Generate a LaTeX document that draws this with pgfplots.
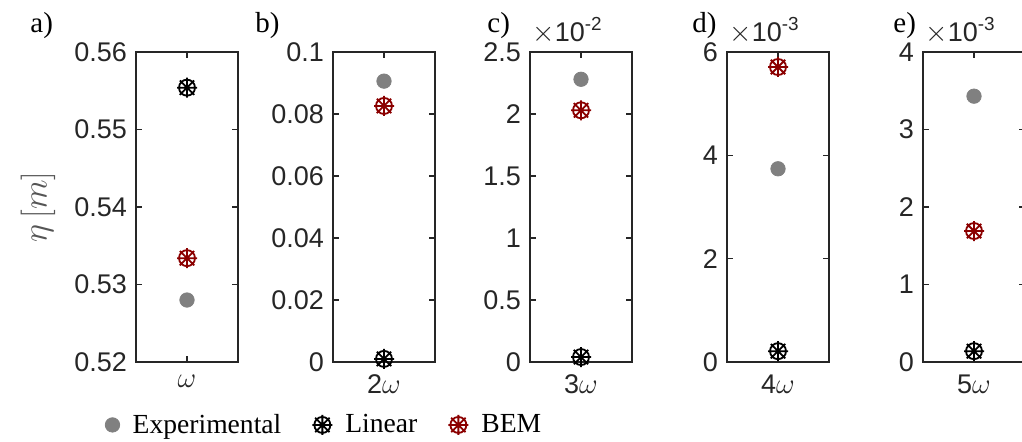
\documentclass[border=0pt]{standalone}
\usepackage{fontspec}
\setmainfont{Liberation Serif}
\setsansfont{Liberation Sans}
\usepackage{pgfplots}
\pgfplotsset{compat=1.18}
\definecolor{axgray}{HTML}{262626}
\definecolor{expgray}{HTML}{808080}
\definecolor{bemred}{HTML}{8B0000}
\definecolor{labgray}{HTML}{555555}
\pgfdeclareplotmark{wheel}{%
  \pgfpathcircle{\pgfpointorigin}{0.8\pgfplotmarksize}%
  \pgfpathmoveto{\pgfqpoint{-\pgfplotmarksize}{0pt}}\pgfpathlineto{\pgfqpoint{\pgfplotmarksize}{0pt}}%
  \pgfpathmoveto{\pgfqpoint{0pt}{-\pgfplotmarksize}}\pgfpathlineto{\pgfqpoint{0pt}{\pgfplotmarksize}}%
  \pgfpathmoveto{\pgfqpoint{-0.72\pgfplotmarksize}{-0.72\pgfplotmarksize}}\pgfpathlineto{\pgfqpoint{0.72\pgfplotmarksize}{0.72\pgfplotmarksize}}%
  \pgfpathmoveto{\pgfqpoint{-0.72\pgfplotmarksize}{0.72\pgfplotmarksize}}\pgfpathlineto{\pgfqpoint{0.72\pgfplotmarksize}{-0.72\pgfplotmarksize}}%
  \pgfusepathqstroke}
\tikzset{
  plabel/.style={font=\fontsize{14.5}{17}\selectfont, anchor=base west, inner sep=0pt},
  scalelab/.style={font=\sffamily\fontsize{13.5}{16}\selectfont, text=axgray, anchor=south west, inner sep=0pt},
}
\pgfplotsset{
  panel/.style={
    scale only axis, width=51pt, height=155pt, anchor=south west,
    xmin=0, xmax=2, xtick={1},
    axis line style={color=axgray, line width=0.65pt},
    tick style={color=axgray, line width=0.65pt},
    tick align=inside, major tick length=3pt,
    xtick pos=both, ytick pos=both,
    ticklabel style={font=\sffamily\fontsize{13.5}{16}\selectfont, text=axgray},
    yticklabel style={xshift=-1pt},
    xticklabel style={yshift=-3pt},
    clip=false,
  },
  expst/.style={only marks, mark=*, mark size=3.6pt, color=expgray},
  linst/.style={only marks, mark=wheel, mark size=5pt, color=black, mark options={line width=0.9pt}},
  bemst/.style={only marks, mark=wheel, mark size=5pt, color=bemred, mark options={line width=0.9pt}},
}
\begin{document}
\begin{tikzpicture}
\path[use as bounding box] (0,0) rectangle (511pt,220.5pt);
% a)
\begin{axis}[panel, at={(68pt,39.5pt)},
  ymin=0.52, ymax=0.56, ytick={0.52,0.53,0.54,0.55,0.56},
  yticklabels={0.52,0.53,0.54,0.55,0.56},
  xticklabels={$\omega$},
  legend columns=3,
  legend style={draw=none, fill=none, inner sep=0pt, anchor=west,
    at={(rel axis cs:-0.305,-0.203)},
    font=\fontsize{13.8}{16}\selectfont,
    /tikz/every odd column/.append style={column sep=5pt},
    /tikz/every even column/.append style={column sep=14pt},
    nodes={inner xsep=1.5pt}},
  legend image code/.code={\draw[mark repeat=2,mark phase=2] plot coordinates {(0pt,0pt) (5pt,0pt) (10pt,0pt)};},
]
\addplot[expst] coordinates {(1,0.5280)};
\addplot[linst] coordinates {(1,0.5554)};
\addplot[bemst] coordinates {(1,0.5334)};
\legend{Experimental, Linear, BEM}
\node[plabel] at ([xshift=-53pt,yshift=10pt]rel axis cs:0,1) {a)};
\node[rotate=90, text=labgray, font=\fontsize{16}{19}\selectfont] at ([xshift=-49pt]rel axis cs:0,0.5) {$\eta\,[m]$};
\end{axis}
% b)
\begin{axis}[panel, at={(166.5pt,39.5pt)},
  ymin=0, ymax=0.1, ytick={0,0.02,0.04,0.06,0.08,0.1},
  yticklabels={0,0.02,0.04,0.06,0.08,0.1},
  xticklabels={2$\omega$},
]
\addplot[expst] coordinates {(1,0.0906)};
\addplot[linst] coordinates {(1,0.0010)};
\addplot[bemst] coordinates {(1,0.0826)};
\node[plabel] at ([xshift=-39pt,yshift=10pt]rel axis cs:0,1) {b)};
\end{axis}
% c) values in units of 1e-2
\begin{axis}[panel, at={(265pt,39.5pt)},
  ymin=0, ymax=2.5, ytick={0,0.5,1,1.5,2,2.5},
  yticklabels={0,0.5,1,1.5,2,2.5},
  xticklabels={3$\omega$},
]
\addplot[expst] coordinates {(1,2.28)};
\addplot[linst] coordinates {(1,0.04)};
\addplot[bemst] coordinates {(1,2.03)};
\node[plabel] at ([xshift=-21.5pt,yshift=10pt]rel axis cs:0,1) {c)};
\node[scalelab] at ([xshift=1pt,yshift=4pt]rel axis cs:0,1) {$\times$10\textsuperscript{-2}};
\end{axis}
% d) values in units of 1e-3
\begin{axis}[panel, at={(363.5pt,39.5pt)},
  ymin=0, ymax=6, ytick={0,2,4,6},
  yticklabels={0,2,4,6},
  xticklabels={4$\omega$},
]
\addplot[expst] coordinates {(1,3.74)};
\addplot[linst] coordinates {(1,0.21)};
\addplot[bemst] coordinates {(1,5.71)};
\node[plabel] at ([xshift=-17.5pt,yshift=10pt]rel axis cs:0,1) {d)};
\node[scalelab] at ([xshift=1pt,yshift=4pt]rel axis cs:0,1) {$\times$10\textsuperscript{-3}};
\end{axis}
% e) values in units of 1e-3
\begin{axis}[panel, at={(461.5pt,39.5pt)},
  ymin=0, ymax=4, ytick={0,1,2,3,4},
  yticklabels={0,1,2,3,4},
  xticklabels={5$\omega$},
]
\addplot[expst] coordinates {(1,3.43)};
\addplot[linst] coordinates {(1,0.14)};
\addplot[bemst] coordinates {(1,1.69)};
\node[plabel] at ([xshift=-15pt,yshift=10pt]rel axis cs:0,1) {e)};
\node[scalelab] at ([xshift=1pt,yshift=4pt]rel axis cs:0,1) {$\times$10\textsuperscript{-3}};
\end{axis}
\end{tikzpicture}
\end{document}
